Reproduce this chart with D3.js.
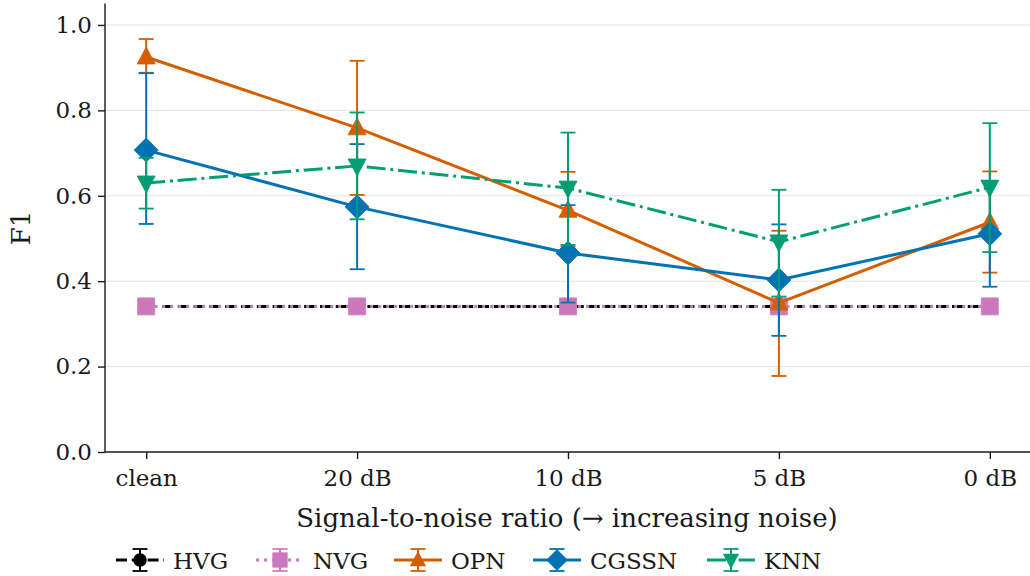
<!DOCTYPE html>
<html>
<head>
<meta charset="utf-8">
<style>
  body { margin: 0; background: #fff; }
  text { font-family: "DejaVu Serif", serif; fill: #1a1a1a; }
</style>
</head>
<body>
<svg width="1030" height="576"></svg>
<script src="https://cdn.jsdelivr.net/npm/d3@7/dist/d3.min.js"></script>
<script>

var categories = ["clean", "20 dB", "10 dB", "5 dB", "0 dB"];
var yTicks = [0, 0.2, 0.4, 0.6, 0.8, 1.0];

// mean, lower and upper error values per condition
var hvgMean = [0.341, 0.341, 0.341, 0.341, 0.341];
var hvgLow  = [0.341, 0.341, 0.341, 0.341, 0.341];
var hvgHigh = [0.341, 0.341, 0.341, 0.341, 0.341];

var nvgMean = [0.341, 0.341, 0.341, 0.341, 0.341];
var nvgLow  = [0.341, 0.341, 0.341, 0.341, 0.341];
var nvgHigh = [0.341, 0.341, 0.341, 0.341, 0.341];

var opnMean = [0.925, 0.759, 0.566, 0.349, 0.538];
var opnLow  = [0.888, 0.602, 0.481, 0.178, 0.420];
var opnHigh = [0.967, 0.916, 0.656, 0.518, 0.657];

var cgssnMean = [0.707, 0.574, 0.466, 0.403, 0.511];
var cgssnLow  = [0.534, 0.428, 0.350, 0.272, 0.387];
var cgssnHigh = [0.887, 0.721, 0.578, 0.533, 0.635];

var knnMean = [0.630, 0.670, 0.618, 0.492, 0.620];
var knnLow  = [0.570, 0.545, 0.485, 0.364, 0.468];
var knnHigh = [0.689, 0.795, 0.748, 0.614, 0.770];

var series = [
  {name: "HVG", color: "#000000", dash: "11,4.8", marker: "circle", mean: hvgMean, low: hvgLow, high: hvgHigh},
  {name: "NVG", color: "#cc78bc", dash: "3,5", marker: "square", mean: nvgMean, low: nvgLow, high: nvgHigh},
  {name: "OPN", color: "#d55e00", dash: null, marker: "triangle", mean: opnMean, low: opnLow, high: opnHigh},
  {name: "CGSSN", color: "#0173b2", dash: null, marker: "diamond", mean: cgssnMean, low: cgssnLow, high: cgssnHigh},
  {name: "KNN", color: "#029e73", dash: "19,4.8,3,4.8", marker: "triangleDown", mean: knnMean, low: knnLow, high: knnHigh}
];

var svg = d3.select("svg");

var x = d3.scaleLinear().domain([-0.2, 4.2]).range([104, 1032]),
    y = d3.scaleLinear().domain([0, 1.05]).range([452, 3.6]);

// grid
svg.append("g").selectAll("line")
  .data(yTicks.slice(1))
  .enter().append("line")
    .attr("x1", 105).attr("x2", 1030)
    .attr("y1", function(d) { return y(d); })
    .attr("y2", function(d) { return y(d); })
    .attr("stroke", "#e3e3e3").attr("stroke-width", 1);

// axes
var yAxis = svg.append("g")
    .attr("transform", "translate(105,0)")
    .call(d3.axisLeft(y).tickValues(yTicks).tickFormat(d3.format(".1f")).tickSize(7).tickPadding(6));
var xAxis = svg.append("g")
    .attr("transform", "translate(0,452)")
    .call(d3.axisBottom(x).tickValues([0, 1, 2, 3, 4]).tickFormat(function(i) { return categories[i]; }).tickSize(7).tickPadding(11));

[xAxis, yAxis].forEach(function(a) {
  a.select(".domain").attr("stroke", "#1a1a1a").attr("stroke-width", 1.4);
  a.selectAll(".tick line").attr("stroke", "#1a1a1a").attr("stroke-width", 1.4);
  a.selectAll(".tick text").style("font-family", "DejaVu Serif").style("font-size", "23px").attr("fill", "#1a1a1a");
});
xAxis.select(".domain").attr("d", "M105,0H1030");
yAxis.select(".domain").attr("d", "M0,452V3.6");

svg.append("text")
  .attr("x", 567).attr("y", 527)
  .attr("text-anchor", "middle")
  .style("font-size", "26px")
  .text("Signal-to-noise ratio (→ increasing noise)");

svg.append("text")
  .attr("transform", "translate(30,228) rotate(-90)")
  .attr("text-anchor", "middle")
  .style("font-size", "26px")
  .text("F1");

function markerPath(type) {
  if (type === "circle") return d3.symbol(d3.symbolCircle, 180)();
  if (type === "square") return "M-8.5,-8.5H8.5V8.5H-8.5Z";
  if (type === "triangle") return "M0,-10L9,7H-9Z";
  if (type === "triangleDown") return "M0,10L9,-7H-9Z";
  if (type === "diamond") return "M0,-12L12,0L0,12L-12,0Z";
}

var line = d3.line()
  .x(function(d, i) { return x(i); })
  .y(function(d) { return y(d); });

series.forEach(function(s) {
  var g = svg.append("g");
  var idx = d3.range(s.mean.length);
  // error bars
  g.selectAll(".eb").data(idx).enter().append("line")
    .attr("x1", function(i) { return x(i); }).attr("x2", function(i) { return x(i); })
    .attr("y1", function(i) { return y(s.low[i]); }).attr("y2", function(i) { return y(s.high[i]); })
    .attr("stroke", s.color).attr("stroke-width", 2);
  g.selectAll(".capLow").data(idx).enter().append("line")
    .attr("x1", function(i) { return x(i) - 7.5; }).attr("x2", function(i) { return x(i) + 7.5; })
    .attr("y1", function(i) { return y(s.low[i]); }).attr("y2", function(i) { return y(s.low[i]); })
    .attr("stroke", s.color).attr("stroke-width", 1.8);
  g.selectAll(".capHigh").data(idx).enter().append("line")
    .attr("x1", function(i) { return x(i) - 7.5; }).attr("x2", function(i) { return x(i) + 7.5; })
    .attr("y1", function(i) { return y(s.high[i]); }).attr("y2", function(i) { return y(s.high[i]); })
    .attr("stroke", s.color).attr("stroke-width", 1.8);
  // line
  g.append("path")
    .attr("d", line(s.mean))
    .attr("fill", "none")
    .attr("stroke", s.color)
    .attr("stroke-width", 3)
    .attr("stroke-dasharray", s.dash);
  // markers
  g.selectAll(".mk").data(idx).enter().append("path")
    .attr("d", markerPath(s.marker))
    .attr("transform", function(i) { return "translate(" + x(i) + "," + y(s.mean[i]) + ")"; })
    .attr("fill", s.color)
    .attr("stroke", s.color).attr("stroke-width", 0.8);
});

// legend
var legendX = [116, 256, 394, 533, 707],
    legendY = 560;
var leg = svg.append("g");
series.forEach(function(s, k) {
  var g = leg.append("g").attr("transform", "translate(" + legendX[k] + "," + legendY + ")");
  g.append("line").attr("x1", 0).attr("x2", 48).attr("y1", 0).attr("y2", 0)
    .attr("stroke", s.color).attr("stroke-width", 3).attr("stroke-dasharray", s.dash);
  g.append("line").attr("x1", 24).attr("x2", 24).attr("y1", -11).attr("y2", 11)
    .attr("stroke", s.color).attr("stroke-width", 2);
  g.append("line").attr("x1", 16.5).attr("x2", 31.5).attr("y1", -11).attr("y2", -11)
    .attr("stroke", s.color).attr("stroke-width", 1.8);
  g.append("line").attr("x1", 16.5).attr("x2", 31.5).attr("y1", 11).attr("y2", 11)
    .attr("stroke", s.color).attr("stroke-width", 1.8);
  g.append("path").attr("d", markerPath(s.marker)).attr("transform", "translate(24,0) scale(0.9)")
    .attr("fill", s.color);
  g.append("text").attr("x", 57).attr("y", 8.5).style("font-size", "23px").text(s.name);
});

</script>
</body>
</html>
